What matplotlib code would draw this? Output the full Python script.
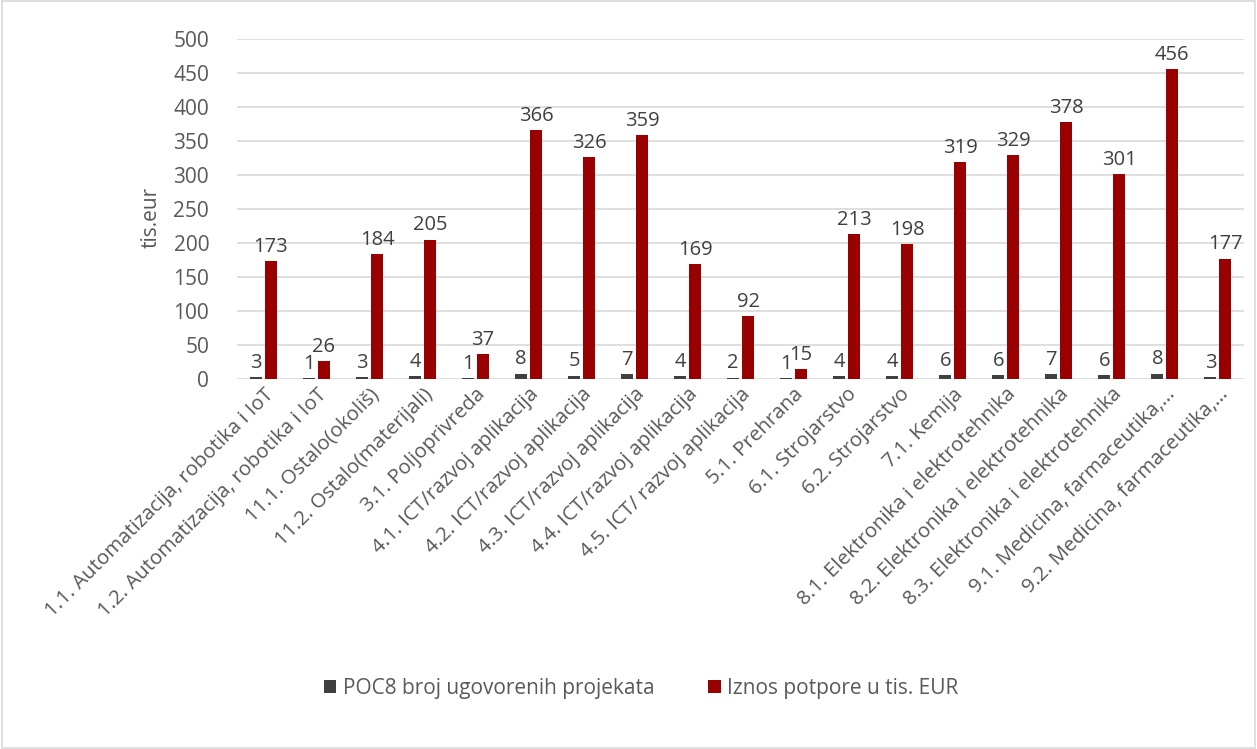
import matplotlib
matplotlib.use("Agg")
import matplotlib.pyplot as plt
import numpy as np
from matplotlib.patches import Rectangle

categories = [
    "1.1. Automatizacija, robotika i IoT",
    "1.2. Automatizacija, robotika i IoT",
    "11.1. Ostalo(okoliš)",
    "11.2. Ostalo(materijali)",
    "3.1. Poljoprivreda",
    "4.1. ICT/razvoj aplikacija",
    "4.2. ICT/razvoj aplikacija",
    "4.3. ICT/razvoj aplikacija",
    "4.4. ICT/razvoj aplikacija",
    "4.5. ICT/ razvoj aplikacija",
    "5.1. Prehrana",
    "6.1. Strojarstvo",
    "6.2. Strojarstvo",
    "7.1. Kemija",
    "8.1. Elektronika i elektrotehnika",
    "8.2. Elektronika i elektrotehnika",
    "8.3. Elektronika i elektrotehnika",
    "9.1. Medicina, farmaceutika,…",
    "9.2. Medicina, farmaceutika,…",
]
projects = [3, 1, 3, 4, 1, 8, 5, 7, 4, 2, 1, 4, 4, 6, 6, 7, 6, 8, 3]
amounts = [173, 26, 184, 205, 37, 366, 326, 359, 169, 92, 15, 213, 198, 319, 329, 378, 301, 456, 177]
series_names = ["POC8 broj ugovorenih projekata", "Iznos potpore u tis. EUR"]
yticks = [0, 50, 100, 150, 200, 250, 300, 350, 400, 450, 500]

plt.rcParams['font.family'] = ['Open Sans', 'DejaVu Sans']
txt = '#595959'
lbl = '#404040'
fs = 15

fig = plt.figure(figsize=(12.57, 7.49), dpi=100)
fig.patches.append(Rectangle((0.0015, 0.002), 0.997, 0.996, transform=fig.transFigure,
                             fill=False, edgecolor='#d9d9d9', linewidth=1.2))
ax = fig.add_axes([0.1885, 0.494, 0.8015, 0.454])

x = np.arange(len(categories))
w = 0.226
b1 = ax.bar(x - w / 2 - 0.028, projects, w, color='#404040', label=series_names[0], zorder=3)
b2 = ax.bar(x + w / 2 + 0.028, amounts, w, color='#990000', label=series_names[1], zorder=3)

for bars, vals in ((b1, projects), (b2, amounts)):
    for r, v in zip(bars, vals):
        ax.annotate(str(v), (r.get_x() + r.get_width() / 2, r.get_height()),
                    xytext=(0, 3), textcoords='offset points', ha='center', va='bottom',
                    fontsize=14.5, color=lbl)

ax.set_xlim(-0.5, len(categories) - 0.5)
ax.set_ylim(0, 500)
ax.set_yticks(yticks)
ax.yaxis.grid(True, color='#d9d9d9', linewidth=1.2, zorder=0)
ax.set_axisbelow(True)
for s in ax.spines.values():
    s.set_visible(False)
ax.tick_params(axis='both', length=0, colors=txt, labelsize=fs)
ax.tick_params(axis='y', pad=20)
ax.set_xticks(x)
ax.set_xticklabels(categories, rotation=45, ha='right', rotation_mode='anchor', fontsize=14.7, color=txt)
ax.tick_params(axis='x', pad=4)
ax.set_ylabel('tis.eur', fontsize=fs, color=txt)
ax.yaxis.set_label_coords(-0.0745, 0.475)

fig.legend(handles=[b1, b2], labels=series_names, loc='center', bbox_to_anchor=(0.51, 0.081),
           ncol=2, frameon=False, fontsize=15, labelcolor=txt, handlelength=0.6, handleheight=0.6,
           columnspacing=2.6, handletextpad=0.3)

fig.savefig('out.png', dpi=100)
